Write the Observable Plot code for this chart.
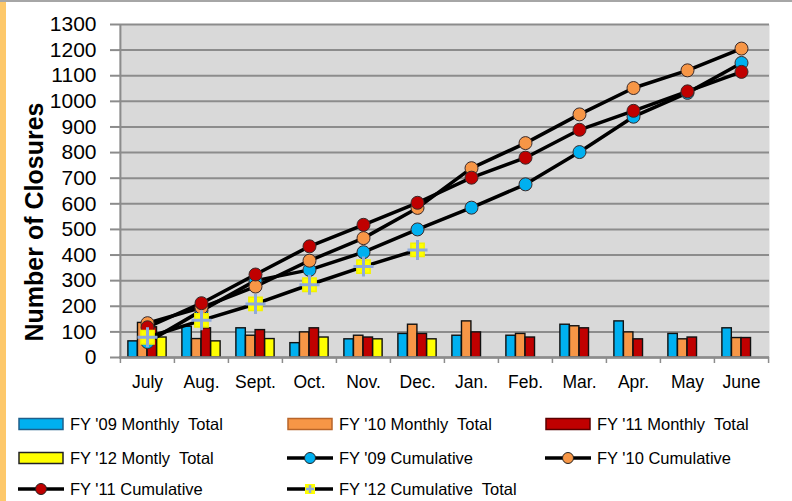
<!DOCTYPE html>
<html><head><meta charset="utf-8">
<script src="https://cdn.jsdelivr.net/npm/d3@7"></script>
<script src="https://cdn.jsdelivr.net/npm/@observablehq/plot@0.6"></script>
<style>
body{margin:0;background:#fff;font-family:"Liberation Sans",Arial,sans-serif;}
#wrap{position:relative;width:792px;height:501px;overflow:hidden;background:#fff;}
#chart{position:absolute;left:0;top:0;}
#ytitle{position:absolute;left:34px;top:222px;transform:translate(-50%,-50%) rotate(-90deg);font-weight:bold;font-size:25px;white-space:nowrap;color:#000;}
.gold{position:absolute;left:0;top:0;width:6px;height:501px;background:#fdc86a;}
.topline{position:absolute;left:0;top:0;width:792px;height:2px;background:#a6a6a6;}
.leg{position:absolute;display:flex;align-items:center;font-size:16.5px;white-space:pre;color:#000;}
.leg svg{margin-right:6px;}
</style></head><body>
<div id="wrap"><div id="chart"></div><div id="ytitle">Number of Closures</div><div class="gold"></div><div class="topline"></div></div>
<script>
const months = ["July","Aug.","Sept.","Oct.","Nov.","Dec.","Jan.","Feb.","Mar.","Apr.","May","June"];
const yTicks = [0,100,200,300,400,500,600,700,800,900,1000,1100,1200,1300];
const fy09Monthly = [63,120,114,56,71,92,85,85,128,141,92,114];
const fy10Monthly = [135,72,85,98,85,128,141,92,122,98,71,76];
const fy11Monthly = [118,114,107,114,78,92,98,78,114,71,78,76];
const fy12Monthly = [78,63,72,78,71,71];
const fy09Cumulative = [60,183,300,342,411,500,585,676,802,940,1033,1150];
const fy10Cumulative = [134,195,277,378,466,584,739,837,949,1052,1121,1206];
const fy11Cumulative = [118,212,324,434,518,604,702,780,889,963,1039,1115];
const fy12Cumulative = [79,145,209,284,355,420];
const seriesNames = ["FY '09 Monthly  Total","FY '10 Monthly  Total","FY '11 Monthly  Total","FY '12 Montly  Total","FY '09 Cumulative","FY '10 Cumulative","FY '11 Cumulative","FY '12 Cumulative  Total"];
const colors = ["#00b0f0","#f79646","#c00000","#ffff00"];

const W = 792, H = 400, ML = 119, MR = 23, MT = 24, MB = 43;
const bw = (W - ML - MR) / months.length;
const barW = 9.6, groupOff = (bw - 4 * barW) / 2;

const toRows = arr => arr.map((v, i) => ({month: months[i], value: v}));
const monthly = [fy09Monthly, fy10Monthly, fy11Monthly, fy12Monthly].map(toRows);
const cumulative = [fy09Cumulative, fy10Cumulative, fy11Cumulative, fy12Cumulative].map(toRows);

const bars = monthly.map((rows, i) => Plot.barY(rows, {
  x: "month", y: "value", fill: colors[i], stroke: "#111", strokeWidth: 1.4,
  insetLeft: groupOff + i * barW, insetRight: bw - groupOff - (i + 1) * barW
}));
const lines = cumulative.map(rows => Plot.line(rows, {x: "month", y: "value", stroke: "#000", strokeWidth: 3.5}));
const dots = cumulative.slice(0, 3).map((rows, i) => Plot.dot(rows, {x: "month", y: "value", r: 6.5, fill: colors[i], stroke: "#3a2a2a", strokeWidth: 1}));
const boundaries = months.map((m, i) => ({month: m, side: -1})).concat([{month: months[months.length - 1], side: 1}]);

const chart = Plot.plot({
  width: W, height: H, marginLeft: ML, marginRight: MR, marginTop: MT, marginBottom: MB,
  style: {fontFamily: "'Liberation Sans', Arial, sans-serif", color: "#000", background: "transparent"},
  x: {type: "band", domain: months, paddingInner: 0, paddingOuter: 0, axis: null},
  y: {domain: [0, 1300], axis: null},
  marks: [
    Plot.frame({fill: "#d9d9d9", stroke: null}),
    Plot.gridY(yTicks, {stroke: "#8c8c8c", strokeOpacity: 1, strokeWidth: 2}),
    Plot.axisY(yTicks, {tickSize: 9, tickPadding: 14, fontSize: 21, stroke: "#8c8c8c", strokeWidth: 2, fill: "#000", label: null, tickFormat: d => String(d)}),
    Plot.axisX({tickSize: 0, tickPadding: 18, fontSize: 17.5, fill: "#000", label: null}),
    ...bars,
    Plot.ruleY([0], {stroke: "#8c8c8c", strokeWidth: 2.5}),
    Plot.ruleX([months[0]], {x: d => d, dx: -bw / 2, stroke: "#8c8c8c", strokeWidth: 2}),
    Plot.ruleX(boundaries, {x: "month", y1: 0, y2: 0, insetBottom: -6, stroke: "#8c8c8c", strokeWidth: 1.5}),
    ...lines,
    ...dots,
    Plot.dot(cumulative[3], {x: "month", y: "value", symbol: "square", r: 7.5, fill: "#ffff00", stroke: "#f2f200", strokeWidth: 1.5}),
    Plot.dot(cumulative[3], {x: "month", y: "value", symbol: "plus", r: 6.5, stroke: "#8ea9db", strokeWidth: 3})
  ]
});
document.getElementById("chart").appendChild(chart);

// shift boundary ticks to band edges
const tickSel = chart.querySelectorAll("g[aria-label='rule']");
if (tickSel.length >= 2) {
  const g = tickSel[tickSel.length - 1];
  g.querySelectorAll("line").forEach((ln, i) => {
    const off = boundaries[i].side * bw / 2;
    ln.setAttribute("transform", `translate(${off},0)`);
  });
}

// legend
const legPos = [[18,424],[287,424],[545,424],[18,458],[287,458],[545,458],[18,489],[287,489]];
const wrap = document.getElementById("wrap");
const strokeCols = ["#1f5f8b","#b8652a","#5a0000","#222"];
seriesNames.forEach((name, k) => {
  const [x, y] = legPos[k];
  const div = document.createElement("div");
  div.className = "leg";
  div.style.left = x + "px";
  div.style.top = (y - 11) + "px";
  div.style.height = "22px";
  let sw;
  if (k < 4) {
    sw = `<svg width="46" height="14"><rect x="1" y="1.5" width="44" height="11" fill="${colors[k]}" stroke="${strokeCols[k]}" stroke-width="1.5"/></svg>`;
  } else {
    const c = colors[k - 4];
    const mk = k < 7
      ? `<circle cx="23" cy="7" r="5.5" fill="${c}" stroke="#222" stroke-width="1"/>`
      : `<rect x="18" y="2" width="10" height="10" fill="#ffff00"/><path d="M23 3v8M19 7h8" stroke="#8ea9db" stroke-width="2.5"/>`;
    sw = `<svg width="46" height="14"><line x1="0" y1="7" x2="46" y2="7" stroke="#000" stroke-width="3.5"/>${mk}</svg>`;
  }
  div.innerHTML = sw + `<span>${name}</span>`;
  wrap.appendChild(div);
});
</script>
</body></html>
